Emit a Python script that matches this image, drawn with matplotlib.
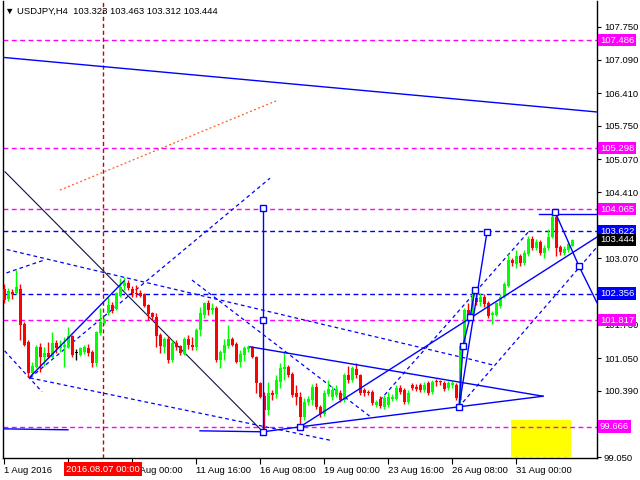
import matplotlib
matplotlib.use('Agg')
import matplotlib.pyplot as plt
from matplotlib.patches import Rectangle
import numpy as np

plt.rcParams['font.family'] = ['Liberation Sans', 'DejaVu Sans']

# H4 candles, one row per bar: open, high, low, close
opens = [102.45, 102.25, 102.39, 102.37, 102.45, 101.74, 101.38, 100.75, 100.87, 101.28,
         101.07, 101.15, 101.07, 101.36, 101.26, 101.28, 101.28, 101.50, 101.15, 101.11,
         101.17, 101.26, 101.17, 100.95, 101.56, 101.76, 101.96, 102.13, 102.04, 102.31,
         102.51, 102.57, 102.45, 102.37, 102.37, 102.35, 102.13, 101.96, 101.88, 101.52,
         101.28, 101.44, 101.01, 101.36, 101.30, 101.13, 101.44, 101.32, 101.28, 101.62,
         101.92, 102.17, 102.02, 102.06, 101.01, 101.15, 101.30, 101.44, 101.34, 100.97,
         101.11, 101.23, 101.28, 101.07, 100.55, 100.28, 100.00, 100.35, 100.33, 100.57,
         100.83, 100.87, 100.73, 100.35, 100.26, 99.86, 100.16, 100.20, 100.47, 100.06,
         99.92, 100.33, 100.26, 100.30, 100.35, 100.20, 100.71, 100.61, 100.83, 100.71,
         100.41, 100.37, 100.37, 100.10, 100.22, 100.06, 100.10, 100.22, 100.22, 100.45,
         100.41, 100.16, 100.51, 100.47, 100.51, 100.41, 100.55, 100.37, 100.57, 100.57,
         100.55, 100.45, 100.51, 100.51, 100.20, 101.30, 102.02, 101.86, 102.27, 102.19,
         102.29, 102.17, 101.92, 101.92, 102.11, 102.29, 102.51, 103.04, 102.95, 103.12,
         102.97, 103.16, 103.46, 103.28, 103.40, 103.18, 103.28, 103.50, 103.91, 103.30,
         103.18, 103.24, 103.323]
highs = [102.55, 102.47, 102.45, 102.83, 102.55, 101.78, 101.42, 100.97, 101.32, 101.36,
         101.28, 101.38, 101.58, 101.42, 101.42, 101.48, 101.68, 101.52, 101.23, 101.28,
         101.32, 101.34, 101.21, 101.60, 102.06, 101.86, 102.29, 102.19, 102.39, 102.67,
         102.69, 102.63, 102.51, 102.53, 102.43, 102.37, 102.15, 101.98, 101.96, 101.56,
         101.48, 101.50, 101.42, 101.42, 101.32, 101.48, 101.52, 101.48, 101.66, 102.09,
         102.19, 102.23, 102.17, 102.10, 101.21, 101.44, 101.72, 101.48, 101.38, 101.21,
         101.30, 101.32, 101.30, 101.09, 100.57, 100.37, 100.57, 100.41, 100.71, 100.95,
         101.17, 100.91, 100.77, 100.51, 100.37, 100.24, 100.28, 100.53, 100.55, 100.10,
         100.41, 100.61, 100.49, 100.51, 100.41, 100.75, 100.89, 100.89, 100.95, 100.73,
         100.45, 100.41, 100.41, 100.20, 100.28, 100.30, 100.37, 100.33, 100.51, 100.51,
         100.45, 100.41, 100.55, 100.53, 100.55, 100.57, 100.59, 100.61, 100.63, 100.61,
         100.59, 100.59, 100.59, 100.55, 101.34, 102.06, 102.17, 102.43, 102.43, 102.37,
         102.35, 102.21, 102.00, 102.19, 102.35, 102.59, 103.16, 103.08, 103.24, 103.16,
         103.24, 103.52, 103.52, 103.46, 103.44, 103.34, 103.66, 103.97, 104.01, 103.34,
         103.32, 103.40, 103.463]
lows = [102.17, 102.21, 102.25, 102.35, 101.42, 101.30, 100.67, 100.71, 100.85, 100.77,
        100.89, 101.05, 101.05, 101.15, 101.17, 100.87, 101.26, 101.07, 101.01, 101.09,
        101.13, 101.09, 100.87, 100.89, 101.52, 101.74, 101.92, 101.96, 102.02, 102.29,
        102.43, 102.43, 102.29, 102.29, 102.29, 102.09, 101.82, 101.82, 101.28, 101.15,
        101.15, 100.95, 100.97, 101.21, 101.11, 101.11, 101.23, 101.21, 101.21, 101.50,
        101.86, 101.92, 101.94, 100.97, 100.85, 101.01, 101.26, 101.30, 100.95, 100.87,
        100.99, 101.17, 101.05, 100.35, 100.24, 99.60, 99.90, 100.20, 100.24, 100.45,
        100.61, 100.67, 100.26, 100.10, 99.66, 99.80, 100.10, 100.10, 100.02, 99.86,
        99.88, 100.28, 100.20, 100.26, 100.16, 100.16, 100.55, 100.57, 100.65, 100.30,
        100.28, 100.30, 100.10, 100.06, 100.04, 100.02, 100.06, 100.18, 100.20, 100.33,
        100.12, 100.12, 100.41, 100.39, 100.37, 100.37, 100.30, 100.33, 100.49, 100.51,
        100.39, 100.41, 100.45, 100.20, 100.06, 101.26, 101.78, 101.82, 102.13, 102.11,
        102.09, 101.86, 101.74, 101.90, 102.06, 102.27, 102.49, 102.91, 102.87, 102.91,
        102.93, 103.12, 103.24, 103.24, 103.14, 103.08, 103.24, 103.48, 103.12, 103.14,
        103.14, 103.20, 103.312]
closes = [102.23, 102.41, 102.35, 102.49, 101.72, 101.32, 100.75, 100.89, 101.28, 101.07,
          101.15, 101.07, 101.36, 101.26, 101.30, 101.32, 101.50, 101.11, 101.15, 101.26,
          101.28, 101.15, 100.95, 101.58, 101.78, 101.82, 102.13, 102.00, 102.37, 102.49,
          102.57, 102.47, 102.37, 102.35, 102.31, 102.11, 101.94, 101.88, 101.50, 101.30,
          101.44, 101.01, 101.36, 101.28, 101.15, 101.44, 101.32, 101.28, 101.62, 101.96,
          102.17, 102.02, 102.06, 101.01, 101.17, 101.32, 101.44, 101.32, 100.97, 101.13,
          101.26, 101.28, 101.07, 100.55, 100.26, 100.00, 100.35, 100.30, 100.61, 100.85,
          100.87, 100.71, 100.30, 100.26, 99.86, 100.16, 100.22, 100.47, 100.06, 99.92,
          100.35, 100.43, 100.41, 100.43, 100.20, 100.71, 100.61, 100.85, 100.71, 100.35,
          100.35, 100.35, 100.14, 100.16, 100.08, 100.24, 100.26, 100.26, 100.45, 100.37,
          100.16, 100.35, 100.45, 100.43, 100.41, 100.51, 100.35, 100.57, 100.55, 100.55,
          100.43, 100.55, 100.55, 100.24, 101.30, 102.02, 101.86, 102.29, 102.19, 102.29,
          102.15, 101.90, 101.96, 102.17, 102.29, 102.55, 103.04, 102.97, 103.12, 102.97,
          103.18, 103.46, 103.28, 103.40, 103.18, 103.28, 103.50, 103.91, 103.28, 103.20,
          103.26, 103.36, 103.444]

# date labels on the time axis (bar index, text)
date_bars = [1, 17, 33, 49, 65, 81, 97, 113, 129]
date_labels = ['1 Aug 2016', '', '9 Aug 00:00', '11 Aug 16:00', '16 Aug 08:00',
               '19 Aug 00:00', '23 Aug 16:00', '26 Aug 08:00', '31 Aug 00:00']
price_ticks = [99.05, 99.73, 100.39, 101.05, 101.73, 102.41, 103.07, 103.73,
               104.41, 105.07, 105.75, 106.41, 107.09, 107.75]
hidden_ticks = [99.73, 102.41, 103.73]   # covered by the level tags

# horizontal levels
magenta_levels = [107.486, 105.298, 104.065, 101.817, 99.666]
blue_levels = [103.622, 102.356]
last_price = 103.444

# trendlines: lists of (bar, price) vertices
solid_lines = [
    [(0, 107.14), (149.25, 106.03)],
    [(65.75, 104.09), (65.75, 99.56)],
    [(0.75, 99.62), (17, 99.60)],
    [(50, 99.58), (65.75, 99.56), (75, 99.66), (135.75, 100.28)],
    [(62.5, 101.28), (135.75, 100.28)],
    [(75, 99.66), (149.25, 103.50)],
    [(114.75, 100.06), (121.75, 103.60)],
    [(114.75, 100.06), (115.75, 101.30), (117.5, 101.88), (118.75, 102.43)],
    [(138.75, 104.01), (144.75, 102.91), (149.25, 102.17)],
    [(134.75, 103.97), (149.25, 103.97)],
    [(7.5, 100.67), (31, 102.61)],
]
dark_line = [(1.25, 104.82), (65.75, 99.56)]
dashed_lines = [
    [(7.5, 100.65), (67.5, 104.69)],
    [(0, 103.28), (113.25, 101.11), (117.5, 101.03), (123.25, 100.91)],
    [(7.5, 100.65), (82.5, 99.39)],
    [(95, 100.20), (132.5, 103.64)],
    [(115.75, 100.16), (149.25, 103.30)],
    [(0, 101.30), (10.5, 100.37)],
    [(0, 102.73), (11.25, 103.04)],
    [(48, 102.63), (93, 99.84)],
]
orange_line = [(15, 104.45), (69.5, 106.27)]
anchors = [(65.75, 104.09), (65.75, 101.82), (65.75, 99.56), (75, 99.66),
           (114.75, 100.06), (115.75, 101.30), (117.5, 101.88), (118.75, 102.43),
           (121.75, 103.60), (138.75, 104.01), (144.75, 102.91)]
target_box = (127.75, 142.75, 99.03, 99.80)
cursor_bar = 25.75

fig = plt.figure(figsize=(6.4, 4.8), dpi=100)
ax = fig.add_axes([2.5 / 640, 22 / 480, 594.5 / 640, 457 / 480])
ax.set_xlim(0.625, 149.25)
ax.set_ylim(99.03, 108.275)

GREEN, RED, BLUE, MAG = '#00ff00', '#ff0000', '#0000ff', '#ff00ff'

# target zone
ax.add_patch(Rectangle((target_box[0], target_box[2]), target_box[1] - target_box[0],
                       target_box[3] - target_box[2], color='#ffff00', lw=0, zorder=1))
ax.plot([target_box[0], target_box[1]], [99.06, 99.06], color='white', lw=1,
        dashes=(3, 2), zorder=1.5)

for lvl in magenta_levels:
    ax.axhline(lvl, color=MAG, lw=1, dashes=(3.5, 2.5), zorder=2)
for lvl in blue_levels:
    ax.axhline(lvl, color=BLUE, lw=1, dashes=(3.5, 2.5), zorder=2)

ax.axvline(cursor_bar, color='#cc0000', lw=1, dashes=(3, 2), zorder=2)

for pts in dashed_lines:
    xs, ys = zip(*pts)
    ax.plot(xs, ys, color=BLUE, lw=0.9, dashes=(3, 2.5), zorder=2)
xs, ys = zip(*orange_line)
ax.plot(xs, ys, color='#ff5a1e', lw=0.9, dashes=(1.5, 2), zorder=2)
xs, ys = zip(*dark_line)
ax.plot(xs, ys, color='#10104a', lw=0.8, zorder=2)

# candles
n = len(closes)
bars = np.arange(1, n + 1)
o, h, l, c = map(np.array, (opens, highs, lows, closes))
col = np.where(c > o, GREEN, np.where(c < o, RED, 'black'))
ax.vlines(bars, l, h, colors=col, lw=1, zorder=3)
body = np.where(np.abs(c - o) < 0.02, 0.02, c - o)
ax.bar(bars, body, bottom=o, width=0.75, color=col, lw=0, zorder=3)

for pts in solid_lines:
    xs, ys = zip(*pts)
    ax.plot(xs, ys, color=BLUE, lw=1, zorder=4)
ax_x, ax_y = zip(*anchors)
ax.plot(ax_x, ax_y, ls='none', marker='s', ms=4.5, mfc='white', mec=BLUE, mew=1, zorder=5)

# axes styling
ax.spines['top'].set_visible(False)
for side in ['left', 'right', 'bottom']:
    ax.spines[side].set_color('black')
    ax.spines[side].set_linewidth(1)
ax.yaxis.tick_right()
ax.set_yticks(price_ticks)
ax.set_yticklabels(['' if v in hidden_ticks else '%.3f' % v for v in price_ticks])
ax.tick_params(axis='y', direction='out', length=3, pad=2, labelsize=6.8, colors='black')
ax.set_xticks(date_bars)
ax.set_xticklabels(date_labels)
ax.tick_params(axis='x', direction='out', length=4, pad=2, labelsize=6.8)
for t in ax.get_xticklabels():
    t.set_horizontalalignment('left')

# colored price labels on the right scale
def price_tag(price, face, text_color='white'):
    yfig = ax.transData.transform((0, price))[1] / fig.bbox.height
    fig.text(600 / 640, yfig, '%.3f' % price, fontsize=6.8, color=text_color,
             va='center', ha='left',
             bbox=dict(boxstyle='square,pad=0.18', fc=face, ec='none'))

for lvl in magenta_levels:
    price_tag(lvl, MAG)
for lvl in blue_levels:
    price_tag(lvl, BLUE)
price_tag(last_price, 'black')

fig.text(103 / 640, 1 - 469 / 480, '2016.08.07 00:00', fontsize=6.8, color='white',
         ha='center', va='center',
         bbox=dict(boxstyle='square,pad=0.25', fc='#ff0000', ec='none'))

fig.text(5 / 640, 1 - 11 / 480, '▼ USDJPY,H4  103.323 103.463 103.312 103.444',
         fontsize=6.8, color='black', va='center', ha='left')

fig.savefig('out.png', dpi=100, facecolor='white')
